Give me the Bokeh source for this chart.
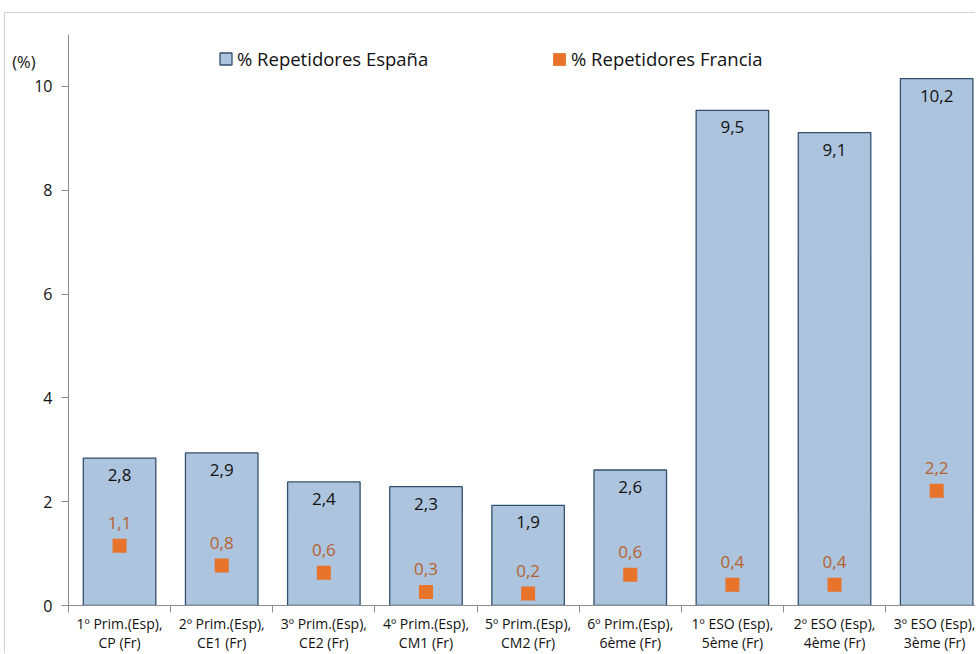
from bokeh.plotting import figure
from bokeh.models import (ColumnDataSource, FixedTicker, Legend, LegendItem, Range1d, Spacer,
                          LinearAxis)
from bokeh.layouts import column, row
from bokeh.core.properties import value
from bokeh.embed import file_html
from bokeh.resources import INLINE

categories = ["1º Prim.(Esp),\nCP (Fr)", "2º Prim.(Esp),\nCE1 (Fr)", "3º Prim.(Esp),\nCE2 (Fr)",
              "4º Prim.(Esp),\nCM1 (Fr)", "5º Prim.(Esp),\nCM2 (Fr)", "6º Prim.(Esp),\n6ème (Fr)",
              "1º ESO (Esp),\n5ème (Fr)", "2º ESO (Esp),\n4ème (Fr)", "3º ESO (Esp),\n3ème (Fr)"]
espana = [2.84, 2.94, 2.38, 2.29, 1.93, 2.61, 9.54, 9.11, 10.15]
francia = [1.15, 0.77, 0.63, 0.26, 0.23, 0.59, 0.40, 0.40, 2.21]
espana_labels = ["2,8", "2,9", "2,4", "2,3", "1,9", "2,6", "9,5", "9,1", "10,2"]
francia_labels = ["1,1", "0,8", "0,6", "0,3", "0,2", "0,6", "0,4", "0,4", "2,2"]
y_ticks = [0, 2, 4, 6, 8, 10]
unit_label = "(%)"
unit_label_pos = 10.48

FONT = "Open Sans"
BAR_FILL = "#adc4de"
BAR_LINE = "#34506f"
ORANGE = "#e8732a"
ORANGE_TXT = "#b5622f"
AXIS = "#8c8c8c"

n = len(categories)
centers = [i + 0.5 for i in range(n)]
bounds = list(range(n + 1))

src = ColumnDataSource(dict(x=centers, esp=espana, fra=francia,
                            esp_lab=espana_labels, fra_lab=francia_labels))

p = figure(width=971, height=641, output_backend="svg", toolbar_location=None,
           x_range=Range1d(0, 8.89), y_range=Range1d(0, 11),
           min_border_left=63, min_border_right=0, min_border_top=21, min_border_bottom=40)
p.outline_line_color = None
p.xgrid.grid_line_color = None
p.ygrid.grid_line_color = None
p.styles = {"border-top": "1px solid #c9d3df", "border-left": "1px solid #c9d3df"}

bars = p.vbar(x="x", top="esp", width=0.71, bottom=0, source=src,
              fill_color=BAR_FILL, line_color=BAR_LINE, line_width=1.3)
sq = p.rect(x="x", y="fra", width=14, height=14, width_units="screen", height_units="screen",
            source=src, fill_color=ORANGE, line_color=None)

p.text(x="x", y="esp", text="esp_lab", source=src, text_align="center",
       text_baseline="middle", y_offset=17, text_font=value(FONT),
       text_font_size="17px", text_color="#111111")
p.text(x="x", y="fra", text="fra_lab", source=src, text_align="center",
       text_baseline="middle", y_offset=-23, text_font=value(FONT),
       text_font_size="17px", text_color=ORANGE_TXT)

# axes
xa = p.xaxis[0]
xa.ticker = FixedTicker(ticks=centers, minor_ticks=bounds)
xa.major_label_overrides = {c: lab for c, lab in zip(centers, categories)}
xa.major_tick_line_color = None
xa.major_tick_out = 0
xa.major_tick_in = 0
xa.minor_tick_line_color = AXIS
xa.minor_tick_out = 7
xa.minor_tick_in = 0
xa.axis_line_color = AXIS
xa.major_label_text_font = FONT
xa.major_label_text_font_size = "14px"
xa.major_label_text_color = "#111111"
xa.major_label_text_line_height = 1.0
xa.major_label_standoff = 1

ya = p.yaxis[0]
ya.ticker = FixedTicker(ticks=y_ticks, minor_ticks=[])
ya.major_tick_out = 7
ya.major_tick_in = 0
ya.major_tick_line_color = AXIS
ya.axis_line_color = AXIS
ya.major_label_text_font = FONT
ya.major_label_text_font_size = "16px"
ya.major_label_text_color = "#111111"
ya.major_label_standoff = 9

ua = LinearAxis(ticker=FixedTicker(ticks=[unit_label_pos], minor_ticks=[]),
                major_label_overrides={unit_label_pos: unit_label},
                axis_line_color=None, major_tick_line_color=None, minor_tick_line_color=None,
                major_tick_out=0, major_tick_in=0, major_label_standoff=-4,
                major_label_text_font=FONT, major_label_text_font_size="16.5px",
                major_label_text_color="#111111")
p.add_layout(ua, "left")

lg1 = Legend(items=[LegendItem(label="% Repetidores España", renderers=[bars])],
             location=(150, 534), orientation="horizontal", padding=0, margin=0,
             border_line_color=None, background_fill_alpha=0, glyph_width=15, glyph_height=15,
             label_standoff=4, label_text_font=FONT, label_text_font_size="18.5px",
             label_text_color="#111111", label_height=15)
lg2 = Legend(items=[LegendItem(label="% Repetidores Francia", renderers=[sq])],
             location=(483, 534), orientation="horizontal", padding=0, margin=0,
             border_line_color=None, background_fill_alpha=0, glyph_width=16, glyph_height=16,
             label_standoff=4, label_text_font=FONT, label_text_font_size="18.5px",
             label_text_color="#111111", label_height=15)
p.add_layout(lg1)
p.add_layout(lg2)

layout = column(Spacer(height=12), row(Spacer(width=4), p))
open("out.html", "w").write(file_html(layout, INLINE))
